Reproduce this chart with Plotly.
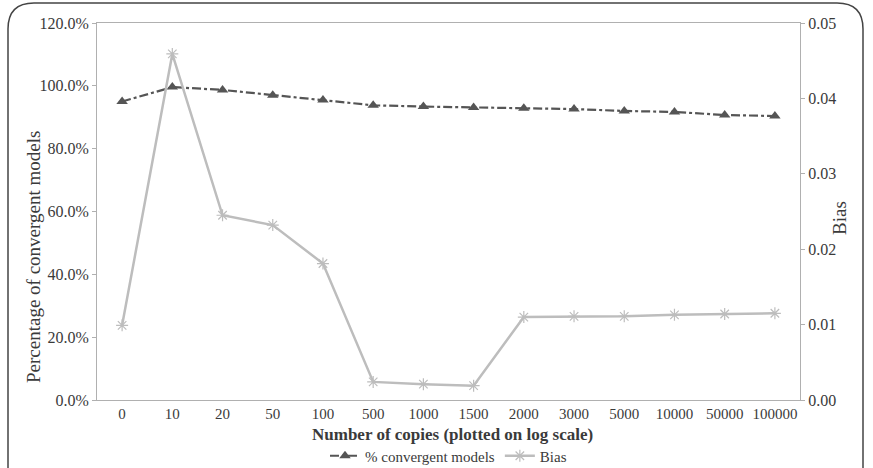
import plotly.graph_objects as go

categories = ["0", "10", "20", "50", "100", "500", "1000", "1500", "2000", "3000", "5000", "10000", "50000", "100000"]
convergent = [0.950, 0.996, 0.987, 0.970, 0.955, 0.938, 0.934, 0.931, 0.929, 0.926, 0.920, 0.917, 0.907, 0.904]
bias = [0.0099, 0.0459, 0.0245, 0.0232, 0.0181, 0.0024, 0.0021, 0.0019, 0.0110, 0.0111, 0.0111, 0.0113, 0.0114, 0.0115]

FONT = "Liberation Serif, DejaVu Serif, serif"
TXT = "#3a3a3a"
AX = "#b0b0b0"

def f(size):
    return dict(family=FONT, color=TXT, size=size)

fig = go.Figure()
fig.add_trace(go.Scatter(
    x=categories, y=convergent, name="% convergent models", mode="lines+markers",
    line=dict(color="#555555", width=2.2, dash="dashdot"),
    marker=dict(symbol="triangle-up", size=10, color="#555555"),
    yaxis="y"))
fig.add_trace(go.Scatter(
    x=categories, y=bias, name="Bias", mode="lines+markers",
    line=dict(color="#bdbdbd", width=2.5),
    marker=dict(symbol="asterisk-open", size=10, line=dict(color="#c4c4c4", width=1.2)),
    yaxis="y2"))

L, R, T, B = 97, 73, 23, 68
W, H = 873, 468
pw, ph = W - L - R, H - T - B

def px(x):
    return (x - L) / pw

def py(y):
    return (H - B - y) / ph

# rounded frame
x0, x1, y0, y1, r = 8, 863, 3, 480, 26
path = (f"M {px(x0)},{py(y1)} L {px(x0)},{py(y0 + r)} "
        f"Q {px(x0)},{py(y0)} {px(x0 + r)},{py(y0)} "
        f"L {px(x1 - r)},{py(y0)} "
        f"Q {px(x1)},{py(y0)} {px(x1)},{py(y0 + r)} "
        f"L {px(x1)},{py(y1)}")

fig.update_layout(
    width=W, height=H,
    margin=dict(l=L, r=R, t=T, b=B, autoexpand=False),
    paper_bgcolor="white", plot_bgcolor="white",
    font=f(15),
    showlegend=True,
    legend=dict(orientation="h", x=0.5, xanchor="center", y=py(456), yanchor="middle",
                font=f(15), itemwidth=30, bgcolor="rgba(0,0,0,0)"),
    xaxis=dict(type="category", range=[-0.5, 13.5], showline=True, linecolor=AX, linewidth=1,
               mirror=True, showgrid=False, ticks="", tickfont=f(15)),
    yaxis=dict(range=[0, 1.2], dtick=0.2, tickformat=".1%", showline=True, linecolor=AX,
               showgrid=False, ticks="outside", ticklen=4, tickcolor=AX, zeroline=False,
               tickfont=f(16)),
    yaxis2=dict(range=[0, 0.05], dtick=0.01, tickformat=".2f", overlaying="y", side="right",
                showline=True, linecolor=AX, showgrid=False, ticks="outside", ticklen=4,
                tickcolor=AX, zeroline=False, tickfont=f(16)),
    shapes=[dict(type="path", xref="paper", yref="paper", path=path,
                 line=dict(color="#444444", width=1.5), layer="above")],
    annotations=[
        dict(text="<b>Number of copies (plotted on log scale)</b>", xref="paper", yref="paper",
             x=px(452), y=py(434), xanchor="center", yanchor="middle", showarrow=False,
             font=f(17)),
        dict(text="Percentage of convergent models", xref="paper", yref="paper",
             x=px(33), y=py(257), xanchor="center", yanchor="middle", showarrow=False,
             textangle=-90, font=f(19)),
        dict(text="Bias", xref="paper", yref="paper",
             x=px(840), y=py(218), xanchor="center", yanchor="middle", showarrow=False,
             textangle=-90, font=f(19)),
    ],
)

fig.write_html("out.html")
